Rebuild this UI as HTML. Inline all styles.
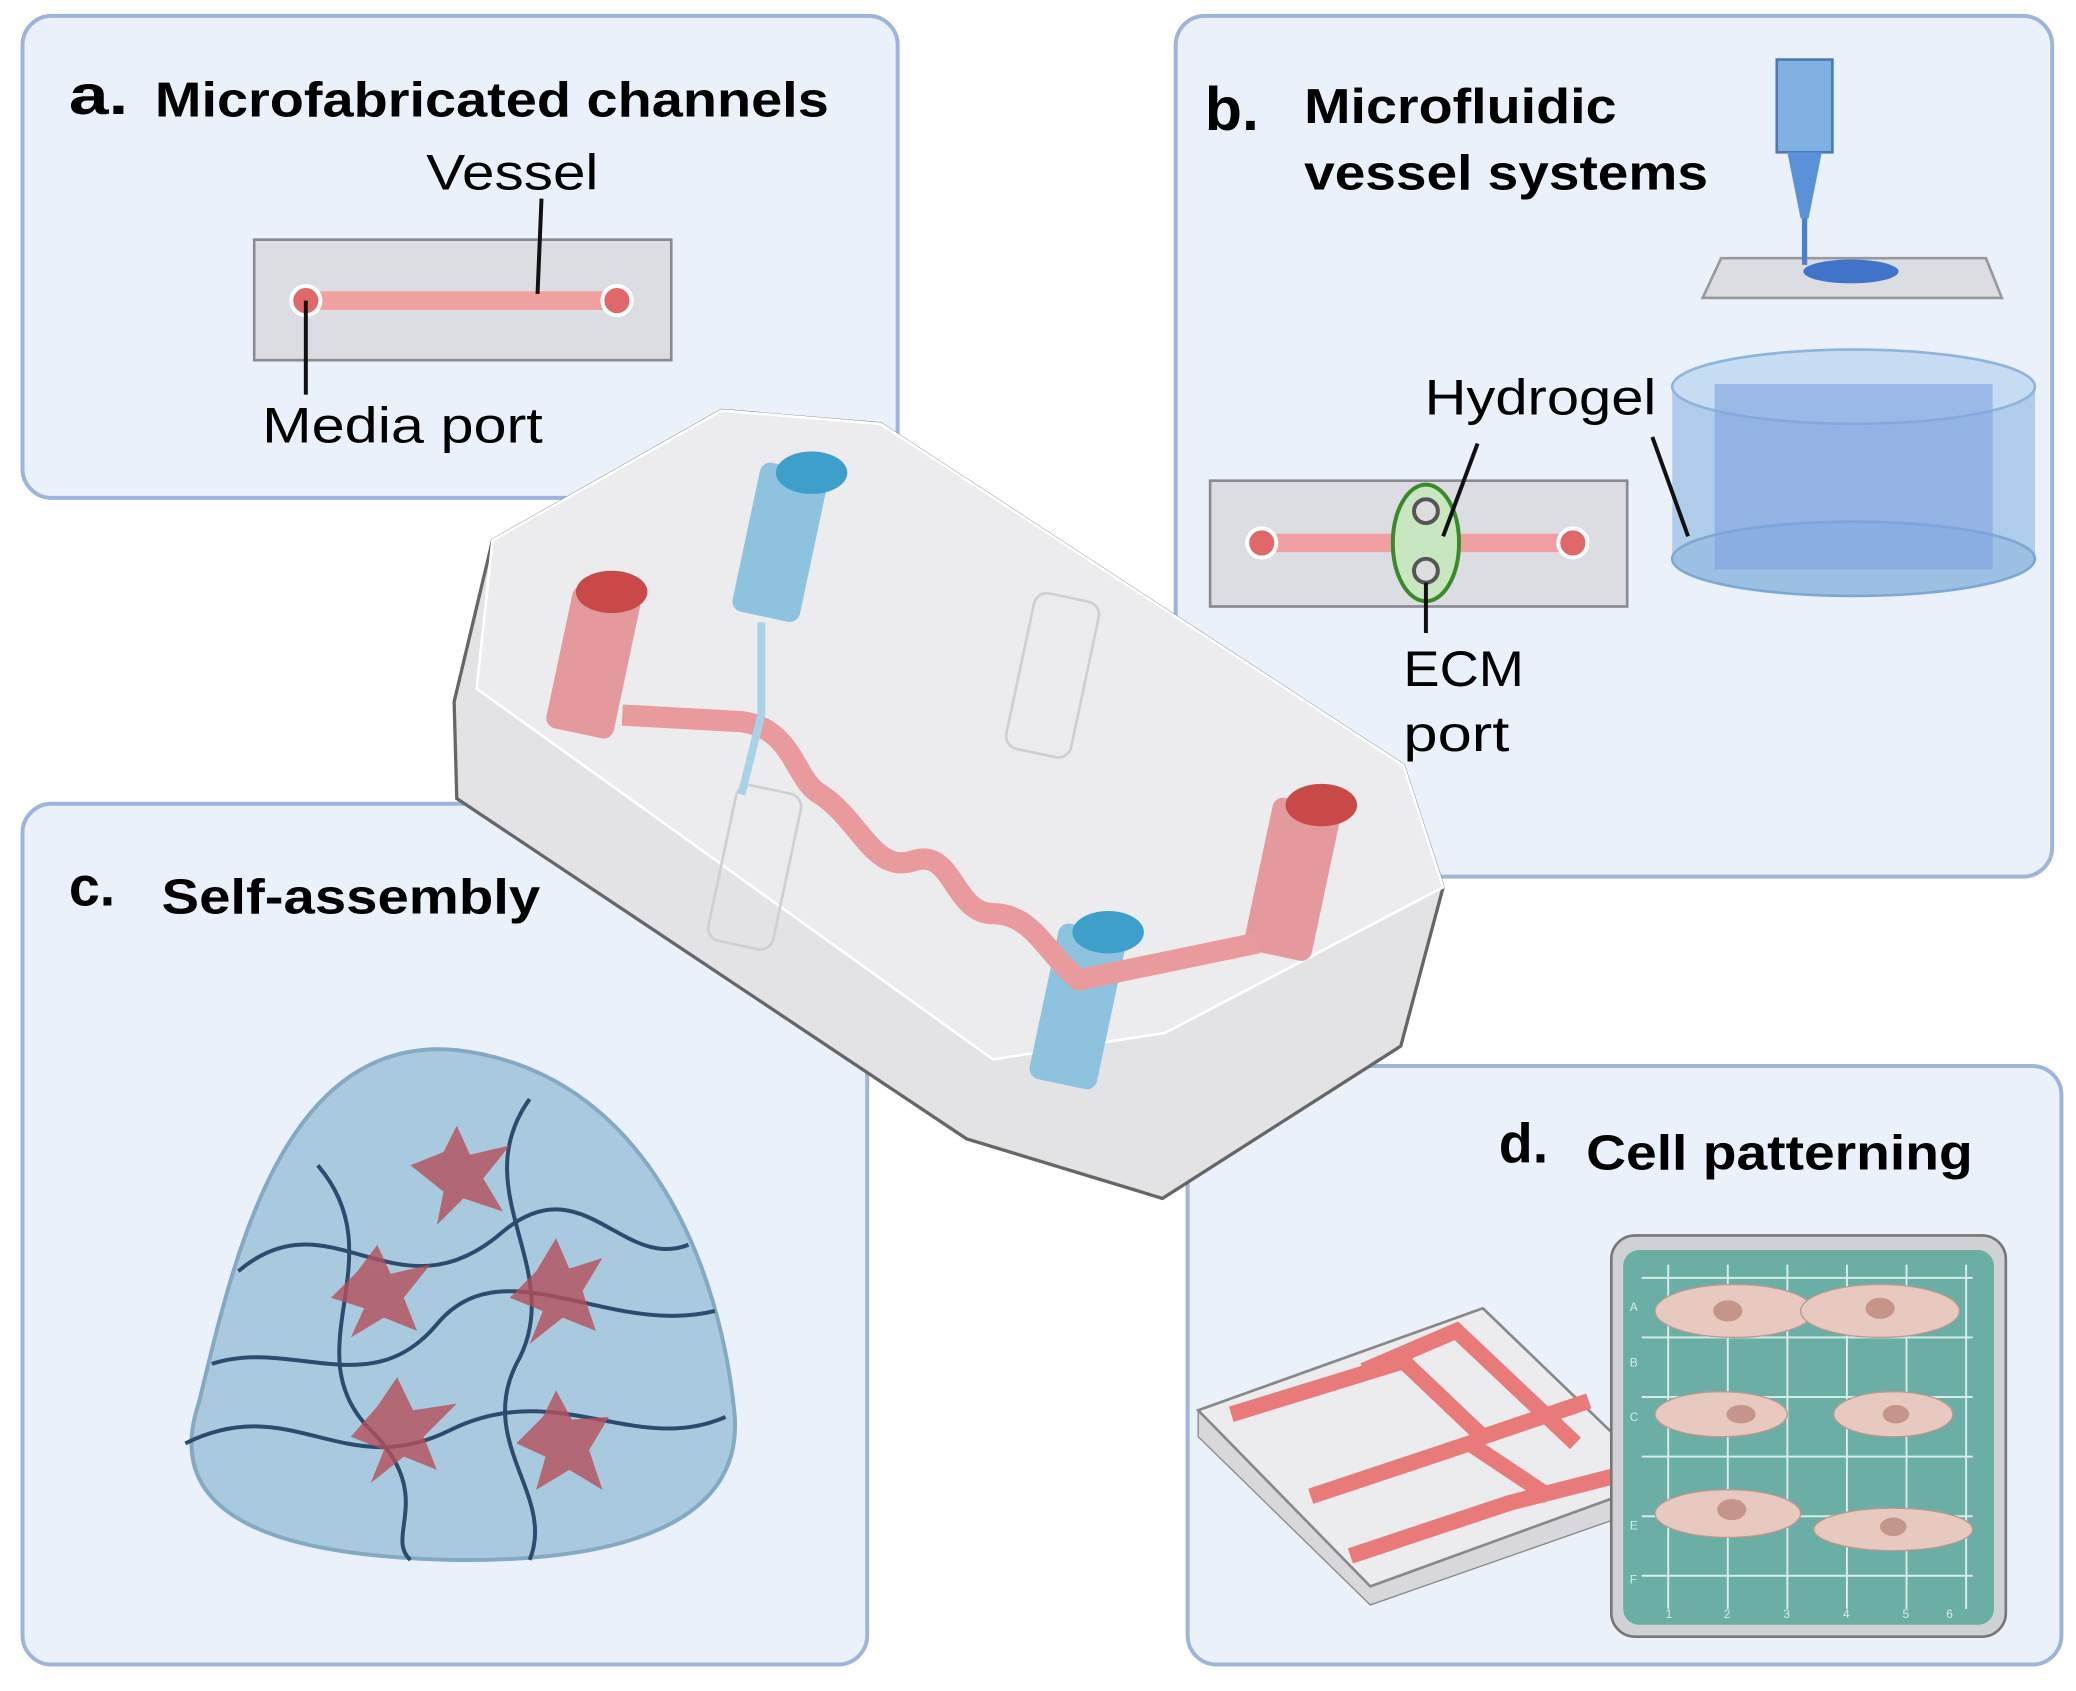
<!DOCTYPE html>
<html><head><meta charset="utf-8"><style>
html,body{margin:0;padding:0;background:#fff;}
svg{display:block;}
text{font-family:"Liberation Sans",sans-serif;}
</style></head><body>
<svg width="2076" height="1691" viewBox="0 0 1568 1277" preserveAspectRatio="none" xmlns="http://www.w3.org/2000/svg">
<rect width="1568" height="1277" fill="#fff"/>
<!-- panels -->
<rect x="17" y="12" width="661" height="364" rx="22" fill="#eaf1fb" stroke="#9fb4da" stroke-width="3"/>
<rect x="888" y="12" width="662" height="650" rx="22" fill="#eaf1fb" stroke="#9fb4da" stroke-width="3"/>
<rect x="17" y="607" width="638" height="650" rx="22" fill="#eaf1fb" stroke="#9fb4da" stroke-width="3"/>
<rect x="897" y="805" width="660" height="452" rx="22" fill="#eaf1fb" stroke="#9fb4da" stroke-width="3"/>

<!-- panel a -->
<text x="52" y="86" font-size="42" font-weight="bold" textLength="45" lengthAdjust="spacingAndGlyphs">a.</text>
<text x="117" y="88" font-size="37" font-weight="bold" textLength="509" lengthAdjust="spacingAndGlyphs">Microfabricated channels</text>
<text x="322" y="143" font-size="38" textLength="130" lengthAdjust="spacingAndGlyphs">Vessel</text>
<rect x="192" y="181" width="315" height="91" fill="#dcdde2" stroke="#8a8a90" stroke-width="2"/>
<rect x="232" y="220" width="234" height="14" fill="#f0a0a0"/>
<circle cx="231" cy="227" r="11" fill="#e06868" stroke="#fff" stroke-width="3"/>
<circle cx="466" cy="227" r="11" fill="#e06868" stroke="#fff" stroke-width="3"/>
<line x1="409" y1="150" x2="406" y2="222" stroke="#111" stroke-width="3"/>
<line x1="231" y1="227" x2="231" y2="298" stroke="#111" stroke-width="3"/>
<text x="198" y="334" font-size="38" textLength="212" lengthAdjust="spacingAndGlyphs">Media port</text>

<!-- panel b -->
<text x="910" y="98" font-size="46" font-weight="bold">b.</text>
<text x="985" y="93" font-size="37" font-weight="bold" textLength="236" lengthAdjust="spacingAndGlyphs">Microfluidic</text>
<text x="985" y="143" font-size="37" font-weight="bold" textLength="305" lengthAdjust="spacingAndGlyphs">vessel systems</text>
<polygon points="1300,195 1500,195 1512,225 1286,225" fill="#dcdde2" stroke="#999" stroke-width="2"/>
<rect x="1342" y="45" width="42" height="70" fill="#7fb1e3" stroke="#4b79b5" stroke-width="2"/>
<polygon points="1350,115 1376,115 1366,165 1360,165" fill="#5b91d8"/>
<rect x="1361" y="165" width="4" height="35" fill="#4a80d0"/>
<ellipse cx="1398" cy="205" rx="36" ry="9" fill="#3f74c8"/>
<text x="1076" y="313" font-size="38" textLength="175" lengthAdjust="spacingAndGlyphs">Hydrogel</text>
<rect x="914" y="363" width="315" height="95" fill="#dcdde2" stroke="#8a8a90" stroke-width="2"/>
<rect x="952" y="403" width="236" height="14" fill="#f0a0a0"/>
<circle cx="953" cy="410" r="11" fill="#e06868" stroke="#fff" stroke-width="3"/>
<circle cx="1188" cy="410" r="11" fill="#e06868" stroke="#fff" stroke-width="3"/>
<ellipse cx="1077" cy="410" rx="25" ry="44" fill="#c8e6c0" stroke="#3a8a2a" stroke-width="3"/>
<circle cx="1077" cy="386" r="9" fill="#ddd" stroke="#555" stroke-width="3"/>
<circle cx="1077" cy="431" r="9" fill="#ddd" stroke="#555" stroke-width="3"/>
<line x1="1116" y1="335" x2="1090" y2="405" stroke="#111" stroke-width="3"/>
<line x1="1077" y1="440" x2="1077" y2="478" stroke="#111" stroke-width="3"/>
<text x="1060" y="518" font-size="38" textLength="91" lengthAdjust="spacingAndGlyphs">ECM</text>
<text x="1060" y="567" font-size="38" textLength="80" lengthAdjust="spacingAndGlyphs">port</text>
<!-- hydrogel cylinder -->
<rect x="1263" y="292" width="274" height="130" fill="#a9c9e8" opacity="0.9"/>
<ellipse cx="1400" cy="422" rx="137" ry="28" fill="#9cc0e4" stroke="#7ea8d4" stroke-width="2"/>
<ellipse cx="1400" cy="292" rx="137" ry="28" fill="#c5dcf2" stroke="#8fb3dc" stroke-width="2"/>
<rect x="1295" y="290" width="210" height="140" fill="#7fa1e0" opacity="0.6"/>
<line x1="1248" y1="330" x2="1275" y2="405" stroke="#111" stroke-width="3"/>

<!-- panel c -->
<text x="52" y="684" font-size="42" font-weight="bold">c.</text>
<text x="122" y="690" font-size="37" font-weight="bold" textLength="286" lengthAdjust="spacingAndGlyphs">Self-assembly</text>
<path d="M150,1060 C120,1150 220,1175 340,1178 C470,1180 560,1150 555,1070 C545,960 490,810 345,793 C210,780 175,960 150,1060 Z" fill="#a6c8dd" stroke="#7fa6c0" stroke-width="3" opacity="0.95"/>
<g fill="none" stroke="#2e4a6e" stroke-width="3">
<path d="M180,960 C250,900 300,1000 380,930 C440,880 470,960 520,940"/>
<path d="M140,1090 C220,1050 260,1120 340,1080 C420,1040 480,1100 548,1070"/>
<path d="M240,880 C300,950 220,1020 280,1080 C330,1130 290,1160 310,1178"/>
<path d="M400,830 C350,900 430,960 390,1030 C360,1090 420,1130 400,1178"/>
<path d="M160,1030 C220,1010 280,1060 330,1000 C380,940 460,1010 540,990"/>
</g>
<g fill="#b5505a" opacity="0.8">
<polygon points="310,880 335,870 345,850 355,872 385,865 365,890 380,915 350,905 330,925 335,900"/>
<polygon points="250,980 270,960 285,940 295,962 325,955 305,980 315,1005 290,995 265,1010 275,988"/>
<polygon points="385,980 405,960 420,935 430,958 455,950 440,975 450,1005 425,995 400,1015 410,990"/>
<polygon points="265,1085 285,1062 300,1040 312,1065 345,1060 320,1085 330,1110 305,1100 280,1120 290,1095"/>
<polygon points="390,1090 410,1070 420,1050 432,1072 460,1070 445,1095 455,1125 430,1110 405,1125 412,1100"/>
</g>

<!-- panel d -->
<text x="1132" y="878" font-size="42" font-weight="bold">d.</text>
<text x="1198" y="883" font-size="37" font-weight="bold" textLength="292" lengthAdjust="spacingAndGlyphs">Cell patterning</text>
<polygon points="1035,1198 1255,1118 1255,1135 1035,1212 905,1085 905,1065" fill="#d8d8dc" stroke="#888" stroke-width="1"/>
<polygon points="905,1065 1120,988 1255,1118 1035,1198" fill="#ececef" stroke="#888" stroke-width="2"/>
<g stroke="#e87a7a" stroke-width="12" fill="none">
<path d="M930,1068 L1060,1028 L1120,1085 L1200,1058"/>
<path d="M1030,1035 L1100,1005 L1190,1090"/>
<path d="M990,1130 L1110,1090 L1170,1130"/>
<path d="M1020,1175 L1140,1135 L1230,1112"/>
</g>
<rect x="1217" y="933" width="298" height="303" rx="18" fill="#cfd1d4" stroke="#777" stroke-width="2"/>
<rect x="1226" y="944" width="280" height="283" rx="12" fill="#6aaea6"/>
<g stroke="#d6ece8" stroke-width="1.5">
<line x1="1240" y1="965" x2="1490" y2="965"/><line x1="1240" y1="1010" x2="1490" y2="1010"/>
<line x1="1240" y1="1055" x2="1490" y2="1055"/><line x1="1240" y1="1100" x2="1490" y2="1100"/>
<line x1="1240" y1="1145" x2="1490" y2="1145"/><line x1="1240" y1="1190" x2="1490" y2="1190"/>
<line x1="1260" y1="955" x2="1260" y2="1215"/><line x1="1305" y1="955" x2="1305" y2="1215"/>
<line x1="1350" y1="955" x2="1350" y2="1215"/><line x1="1395" y1="955" x2="1395" y2="1215"/>
<line x1="1440" y1="955" x2="1440" y2="1215"/><line x1="1485" y1="955" x2="1485" y2="1215"/>
</g>
<g font-size="9" fill="#d6ece8"><text x="1231" y="990">A</text><text x="1231" y="1032">B</text><text x="1231" y="1073">C</text><text x="1231" y="1155">E</text><text x="1231" y="1196">F</text>
<text x="1258" y="1222">1</text><text x="1302" y="1222">2</text><text x="1347" y="1222">3</text><text x="1392" y="1222">4</text><text x="1437" y="1222">5</text><text x="1470" y="1222">6</text></g>
<g fill="#e8c9bf" stroke="#b89a90"><ellipse cx="1310" cy="990" rx="60" ry="20"/><ellipse cx="1420" cy="990" rx="60" ry="20"/>
<ellipse cx="1300" cy="1068" rx="50" ry="17"/><ellipse cx="1430" cy="1068" rx="45" ry="17"/>
<ellipse cx="1305" cy="1143" rx="55" ry="18"/><ellipse cx="1430" cy="1155" rx="60" ry="16"/></g>
<g fill="#c59589"><ellipse cx="1305" cy="990" rx="11" ry="8"/><ellipse cx="1420" cy="988" rx="11" ry="8"/><ellipse cx="1315" cy="1068" rx="11" ry="7"/><ellipse cx="1432" cy="1068" rx="10" ry="7"/><ellipse cx="1308" cy="1140" rx="11" ry="8"/><ellipse cx="1430" cy="1153" rx="10" ry="7"/></g>

<!-- central chip -->
<polygon points="372,408 545,310 665,320 1060,578 1090,670 1058,790 878,905 730,860 345,603 343,530" fill="#e3e3e6" stroke="#666" stroke-width="2.5"/>
<polygon points="372,408 545,310 665,320 1060,578 1090,670 880,780 750,800 360,520" fill="#ececef" stroke="#fff" stroke-width="2"/>
<g fill="none" stroke="#cfcfd3" stroke-width="2"><rect x="770" y="450" width="50" height="120" rx="10" transform="rotate(12 795 510)"/><rect x="545" y="595" width="50" height="120" rx="10" transform="rotate(12 570 655)"/></g>
<rect x="422" y="445" width="52" height="110" rx="8" fill="#e49a9c" transform="rotate(12 448 500)"/>
<ellipse cx="462" cy="447" rx="27" ry="16" fill="#c94848"/>
<rect x="563" y="352" width="52" height="115" rx="8" fill="#8ec3df" transform="rotate(12 589 410)"/>
<ellipse cx="613" cy="357" rx="27" ry="16" fill="#3f9fcb"/>
<rect x="950" y="605" width="52" height="118" rx="8" fill="#e49a9c" transform="rotate(12 976 664)"/>
<ellipse cx="998" cy="608" rx="27" ry="16" fill="#c94848"/>
<rect x="788" y="700" width="52" height="120" rx="8" fill="#8ec3df" transform="rotate(12 814 760)"/>
<ellipse cx="837" cy="704" rx="27" ry="16" fill="#3f9fcb"/>
<path d="M470,540 L560,545 C600,550 600,590 620,600 C650,620 660,660 690,650 C720,640 720,690 750,690 C780,690 790,720 815,740 L950,712" fill="none" stroke="#e89a9c" stroke-width="16"/>
<path d="M575,470 L575,540 L560,600" fill="none" stroke="#aad2e6" stroke-width="6"/>
</svg>
</body></html>
